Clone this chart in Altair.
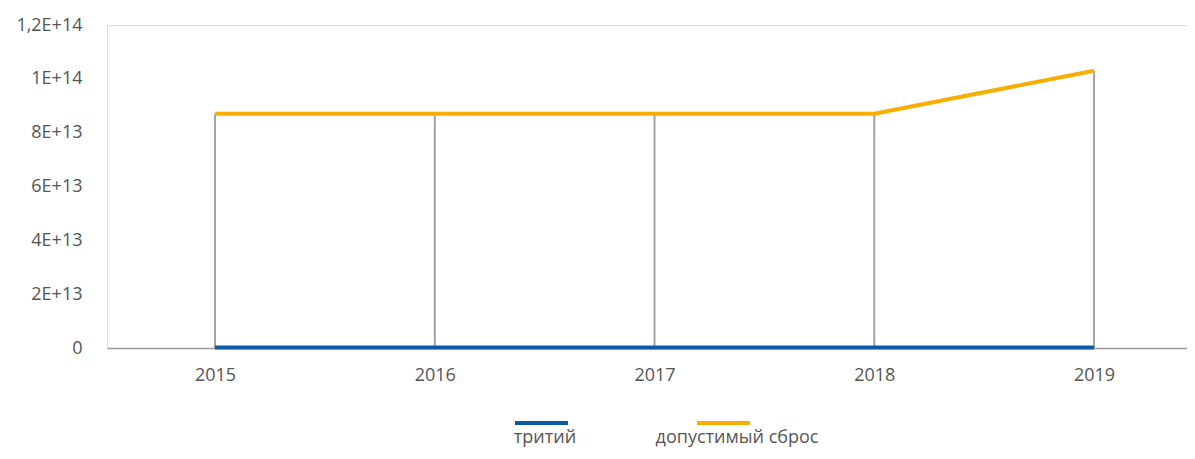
import altair as alt
import pandas as pd

years = [2015, 2016, 2017, 2018, 2019]
tritium = [2.0e11, 2.0e11, 2.0e11, 2.0e11, 2.0e11]
allowed = [8.7e13, 8.7e13, 8.7e13, 8.7e13, 1.03e14]
series_names = ["тритий", "допустимый сброс"]
series_colors = ["#0b5ba6", "#f9ad00"]
y_ticks = [0, 2e13, 4e13, 6e13, 8e13, 1e14, 1.2e14]
y_tick_labels = ["0", "2E+13", "4E+13", "6E+13", "8E+13", "1E+14", "1,2E+14"]

FONT = "Open Sans"
TXT = "#555555"
FS = 18

df = pd.DataFrame({"year": years, "tritium": tritium, "allowed": allowed})

label_expr = " : ".join(
    f"datum.value == {v} ? '{l}'" for v, l in zip(y_ticks, y_tick_labels)
) + " : ''"

x_scale = alt.Scale(domain=[2014.5085, 2019.423], nice=False, zero=False)
y_scale = alt.Scale(domain=[0, 1.2e14], nice=False)

base = alt.Chart(df)

rules = base.mark_rule(color="#a3a3a3", strokeWidth=2).encode(
    x=alt.X("year:Q", scale=x_scale,
            axis=alt.Axis(values=years, format="d", title=None, ticks=False, grid=False,
                          domainColor="#9a9a9a", domainWidth=1.5, labelPadding=18,
                          labelFontSize=FS, labelFont=FONT, labelColor=TXT)),
    y=alt.Y("allowed:Q", scale=y_scale,
            axis=alt.Axis(values=y_ticks, labelExpr=label_expr, title=None, ticks=False,
                          grid=False, domain=False, labelPadding=25,
                          labelFontSize=FS, labelFont=FONT, labelColor=TXT)),
    y2=alt.Y2(datum=0),
)

orange = base.mark_line(color=series_colors[1], strokeWidth=4).encode(
    x=alt.X("year:Q", scale=x_scale), y=alt.Y("allowed:Q", scale=y_scale)
)
blue = base.mark_line(color=series_colors[0], strokeWidth=4).encode(
    x=alt.X("year:Q", scale=x_scale), y=alt.Y("tritium:Q", scale=y_scale)
)

leg = pd.DataFrame({"name": series_names, "color": series_colors})

def legend_entry(i, x1, x2, xt):
    d = alt.Chart(leg.iloc[[i]])
    sym = d.mark_rule(color=series_colors[i], strokeWidth=4).encode(
        x=alt.value(x1), x2=alt.value(x2), y=alt.value(398))
    txt = d.mark_text(font=FONT, fontSize=FS, color=TXT, align="center",
                      baseline="middle").encode(
        x=alt.value(xt), y=alt.value(413), text="name:N")
    return sym + txt

chart = alt.layer(
    rules, orange, blue,
    legend_entry(0, 408, 461, 438),
    legend_entry(1, 590, 643, 630),
).properties(
    width=1080, height=323,
    autosize=alt.AutoSizeParams(type="none"),
    padding={"left": 99, "top": 17, "right": 0, "bottom": 103},
).configure_view(stroke=None).configure(background="white")

chart.save("out.html", embed_options={"renderer": "svg", "actions": False})
